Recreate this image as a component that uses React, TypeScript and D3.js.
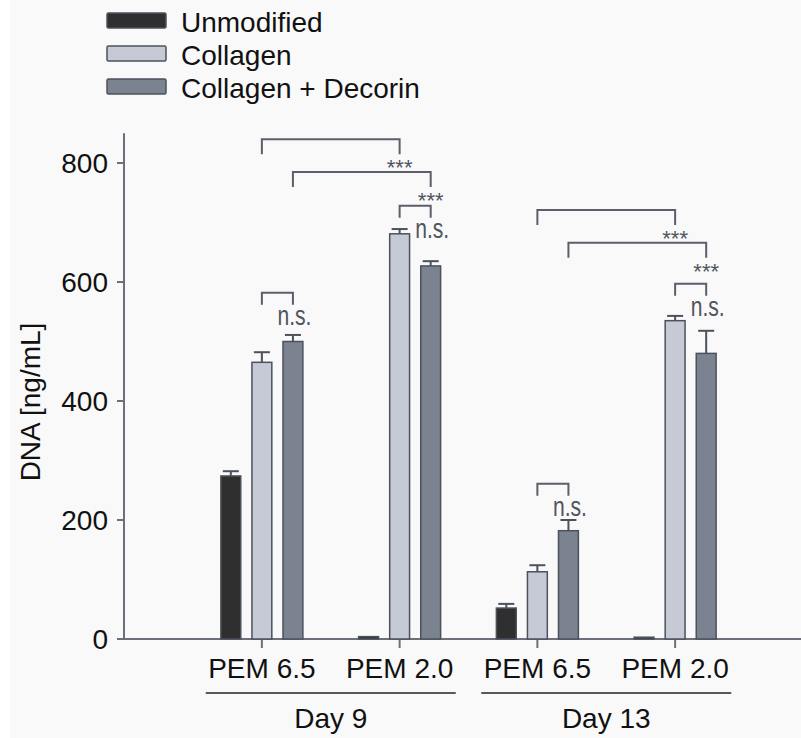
import React, { useEffect, useRef } from 'react';
import * as d3 from 'd3';

// chart values
const groups = ['d9-6.5', 'd9-2.0', 'd13-6.5', 'd13-2.0'];
const groupLabels = ['PEM 6.5', 'PEM 2.0', 'PEM 6.5', 'PEM 2.0'];
const days = ['Day 9', 'Day 13'];
const series = ['Unmodified', 'Collagen', 'Collagen + Decorin'];
const colors = ['#2f2f2f', '#c6cad6', '#7b8290'];
const unmodified = [274, 4, 52, 3];
const collagen = [465, 681, 113, 535];
const decorin = [500, 627, 182, 480];
const unmodifiedErr = [8, 0, 7, 0];
const collagenErr = [17, 8, 11, 8];
const decorinErr = [11, 8, 18, 38];
const yTicks = [0, 200, 400, 600, 800];

// significance brackets: from (group, series) to (group, series) at a level in ng/mL
const brackets = [
  { g1: 0, s1: 1, g2: 1, s2: 1, level: 840, label: '***' },
  { g1: 0, s1: 2, g2: 1, s2: 2, level: 785, label: '***' },
  { g1: 1, s1: 1, g2: 1, s2: 2, level: 728, label: 'n.s.' },
  { g1: 0, s1: 1, g2: 0, s2: 2, level: 582, label: 'n.s.' },
  { g1: 2, s1: 1, g2: 3, s2: 1, level: 721, label: '***' },
  { g1: 2, s1: 2, g2: 3, s2: 2, level: 666, label: '***' },
  { g1: 3, s1: 1, g2: 3, s2: 2, level: 597, label: 'n.s.' },
  { g1: 2, s1: 1, g2: 2, s2: 2, level: 261, label: 'n.s.' },
];

const App = () => {
  const ref = useRef<SVGSVGElement | null>(null);

  useEffect(() => {
    const width = 801;
    const height = 738;
    const font = '"Liberation Sans", Arial, sans-serif';
    const fs = 28;
    const axisColor = '#6b707c';
    const outline = '#4c515c';

    const svg = d3.select(ref.current);
    svg.selectAll('*').remove();
    svg.attr('width', width).attr('height', height);

    svg.append('rect').attr('width', width).attr('height', height).attr('fill', '#ffffff');
    svg.append('rect').attr('x', 10).attr('width', width - 10).attr('height', height).attr('fill', '#f9f9f9');

    const y = d3.scaleLinear().domain([0, 800]).range([639, 163]);
    const x = d3.scaleBand().domain(groups).range([193, 744]).padding(0);
    const xs = d3.scaleBand().domain(series).range([-41, 41]).paddingInner(0.36);

    const values = [unmodified, collagen, decorin];
    const errs = [unmodifiedErr, collagenErr, decorinErr];
    const center = (g: number) => (x(groups[g]) as number) + x.bandwidth() / 2;
    const barCenter = (g: number, s: number) =>
      center(g) + (xs(series[s]) as number) + xs.bandwidth() / 2;

    // y axis
    const yAxis = svg.append('g').attr('transform', 'translate(124,0)');
    yAxis.append('line').attr('y1', y(850)).attr('y2', y(0))
      .attr('stroke', axisColor).attr('stroke-width', 2);
    yTicks.forEach(t => {
      yAxis.append('line').attr('x1', -7).attr('x2', 0).attr('y1', y(t)).attr('y2', y(t))
        .attr('stroke', axisColor).attr('stroke-width', 2);
      yAxis.append('text').attr('x', -16).attr('y', y(t)).attr('dy', '0.36em')
        .attr('text-anchor', 'end').attr('font-family', font).attr('font-size', fs)
        .attr('fill', '#111').text(t);
    });
    svg.append('text').attr('transform', 'translate(40,402) rotate(-90)')
      .attr('text-anchor', 'middle').attr('font-family', font).attr('font-size', fs)
      .attr('fill', '#111').text('DNA [ng/mL]');

    // x axis
    svg.append('line').attr('x1', 123).attr('x2', width).attr('y1', y(0)).attr('y2', y(0))
      .attr('stroke', axisColor).attr('stroke-width', 2);
    groups.forEach((g, i) => {
      svg.append('line').attr('x1', center(i)).attr('x2', center(i))
        .attr('y1', y(0)).attr('y2', y(0) + 9)
        .attr('stroke', axisColor).attr('stroke-width', 2);
      svg.append('text').attr('x', center(i)).attr('y', 678).attr('text-anchor', 'middle')
        .attr('font-family', font).attr('font-size', fs).attr('fill', '#111')
        .text(groupLabels[i]);
    });
    days.forEach((d, i) => {
      const mid = (center(i * 2) + center(i * 2 + 1)) / 2;
      svg.append('line').attr('x1', mid - 125).attr('x2', mid + 125)
        .attr('y1', 693).attr('y2', 693).attr('stroke', '#222').attr('stroke-width', 1.5);
      svg.append('text').attr('x', mid).attr('y', 728).attr('text-anchor', 'middle')
        .attr('font-family', font).attr('font-size', fs).attr('fill', '#111').text(d);
    });

    // bars and error bars
    series.forEach((s, si) => {
      groups.forEach((g, gi) => {
        const v = values[si][gi];
        const e = errs[si][gi];
        const bx = center(gi) + (xs(s) as number);
        const cx = barCenter(gi, si);
        svg.append('rect').attr('x', bx).attr('y', y(v))
          .attr('width', xs.bandwidth()).attr('height', y(0) - y(v))
          .attr('fill', colors[si]).attr('stroke', outline).attr('stroke-width', 1.5);
        if (e > 0) {
          svg.append('line').attr('x1', cx).attr('x2', cx).attr('y1', y(v)).attr('y2', y(v + e))
            .attr('stroke', outline).attr('stroke-width', 2);
          svg.append('line').attr('x1', cx - 8).attr('x2', cx + 8)
            .attr('y1', y(v + e)).attr('y2', y(v + e))
            .attr('stroke', outline).attr('stroke-width', 2);
        }
      });
    });

    // significance brackets
    brackets.forEach(b => {
      const x1 = barCenter(b.g1, b.s1);
      const x2 = barCenter(b.g2, b.s2);
      const top = y(b.level);
      const leg = b.label === '***' ? 15 : 12;
      svg.append('path')
        .attr('d', `M${x1},${top + leg}V${top}H${x2}V${top + leg}`)
        .attr('fill', 'none').attr('stroke', '#5a5f6a').attr('stroke-width', 2);
      if (b.label === '***') {
        svg.append('text').attr('x', x2).attr('y', top + leg + 21).attr('text-anchor', 'middle')
          .attr('font-family', font).attr('font-size', 22).attr('fill', '#50545e')
          .text(b.label);
      } else {
        svg.append('text').attr('x', x2 + 1.5).attr('y', top + leg + 20).attr('text-anchor', 'middle')
          .attr('font-family', font).attr('font-size', 27).attr('fill', '#50545e')
          .attr('textLength', 34).attr('lengthAdjust', 'spacingAndGlyphs')
          .text(b.label);
      }
    });

    // legend
    series.forEach((s, i) => {
      const ly = 13 + i * 33;
      svg.append('rect').attr('x', 107).attr('y', ly).attr('width', 59).attr('height', 15)
        .attr('rx', 1.5).attr('fill', colors[i]).attr('stroke', outline).attr('stroke-width', 1.5);
      svg.append('text').attr('x', 181).attr('y', ly + 19)
        .attr('font-family', font).attr('font-size', fs).attr('fill', '#111').text(s);
    });
  }, []);

  return (
    <div style={{ position: 'absolute', left: 0, top: 0 }}>
      <svg ref={ref}></svg>
    </div>
  );
};

export default App;
